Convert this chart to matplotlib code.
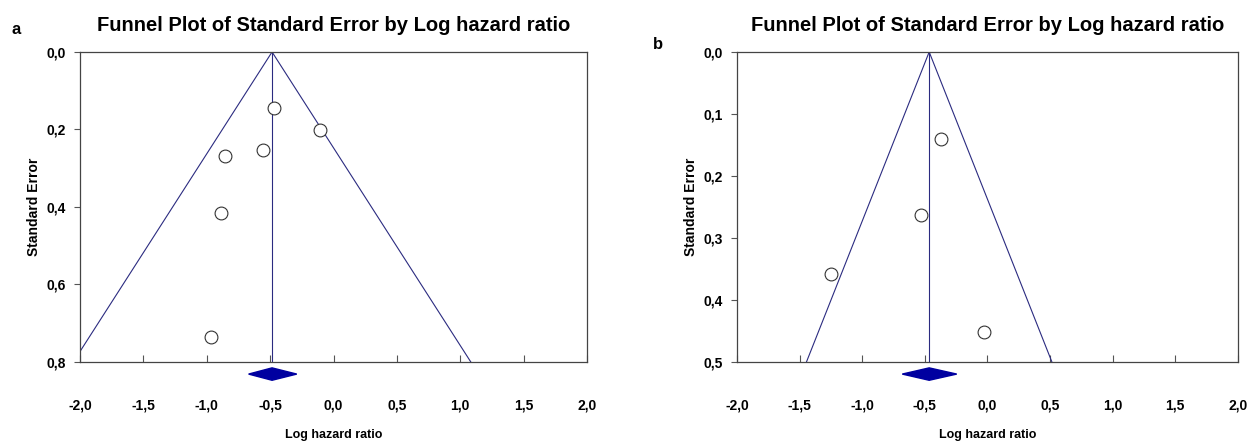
import numpy as np
import matplotlib
matplotlib.use("Agg")
import matplotlib.pyplot as plt
from matplotlib.ticker import FuncFormatter
import matplotlib.transforms as mtransforms

plt.rcParams["font.family"] = ["Liberation Sans", "DejaVu Sans"]

# Panel a data
a_loghr = [-0.47, -0.11, -0.86, -0.56, -0.89, -0.97]
a_se = [0.145, 0.201, 0.268, 0.253, 0.415, 0.736]
a_pooled = -0.485
a_ci = (-0.67, -0.29)
a_ymax = 0.8
a_yticks = [0.0, 0.2, 0.4, 0.6, 0.8]

# Panel b data
b_loghr = [-0.37, -0.53, -1.25, -0.03]
b_se = [0.141, 0.263, 0.358, 0.451]
b_pooled = -0.465
b_ci = (-0.68, -0.245)
b_ymax = 0.5
b_yticks = [0.0, 0.1, 0.2, 0.3, 0.4, 0.5]

xticks = [-2.0, -1.5, -1.0, -0.5, 0.0, 0.5, 1.0, 1.5, 2.0]

LINE = "#2b2b80"
DIAMOND = "#0000a0"
comma = FuncFormatter(lambda v, p: f"{v:.1f}".replace(".", ","))


def funnel(ax, xs, ses, pooled, ci, ymax, yticks, ylabelpad):
    ax.set_xlim(-2.0, 2.0)
    ax.set_ylim(ymax, 0.0)
    se_line = np.array([0.0, ymax])
    ax.plot(pooled - 1.96 * se_line, se_line, color=LINE, lw=0.8, clip_on=True)
    ax.plot(pooled + 1.96 * se_line, se_line, color=LINE, lw=0.8, clip_on=True)
    ax.plot([pooled, pooled], [0.0, ymax], color=LINE, lw=0.8)
    ax.scatter(xs, ses, s=85, facecolors="white", edgecolors="#333333",
               linewidths=0.8, zorder=3)

    # pooled diamond below the axis
    trans = mtransforms.blended_transform_factory(ax.transData, ax.transAxes)
    dy = 0.02
    yc = -0.039
    ax.fill([ci[0], pooled, ci[1], pooled], [yc, yc + dy, yc, yc - dy],
            color=DIAMOND, transform=trans, clip_on=False, zorder=4)

    ax.set_xticks(xticks)
    ax.set_yticks(yticks)
    ax.xaxis.set_major_formatter(comma)
    ax.yaxis.set_major_formatter(comma)
    ax.tick_params(axis="x", direction="in", length=5, pad=26, width=0.8,
                   color="#555555", labelsize=10)
    ax.tick_params(axis="y", direction="out", length=4, pad=6, width=0.8,
                   color="#555555", labelsize=10)
    for lab in ax.get_xticklabels() + ax.get_yticklabels():
        lab.set_fontweight("bold")
    for sp in ax.spines.values():
        sp.set_color("#444444")
        sp.set_linewidth(0.9)
    ax.set_xlabel("Log hazard ratio", fontsize=9, fontweight="bold", labelpad=12)
    ax.set_ylabel("Standard Error", fontsize=10, fontweight="bold",
                  labelpad=ylabelpad)
    ax.set_title("Funnel Plot of Standard Error by Log hazard ratio",
                 fontsize=14.5, fontweight="bold", pad=15)


fig = plt.figure(figsize=(12.48, 4.48), dpi=100)
ax_a = fig.add_axes([0.0641, 0.192, 0.4063, 0.692])
ax_b = fig.add_axes([0.5905, 0.192, 0.4014, 0.692])

funnel(ax_a, a_loghr, a_se, a_pooled, a_ci, a_ymax, a_yticks, 4)
funnel(ax_b, b_loghr, b_se, b_pooled, b_ci, b_ymax, b_yticks, 4)

fig.text(0.009, 0.925, "a", fontsize=12, fontweight="bold")
fig.text(0.523, 0.89, "b", fontsize=12, fontweight="bold")

fig.savefig("out.png", dpi=100, facecolor="white")
